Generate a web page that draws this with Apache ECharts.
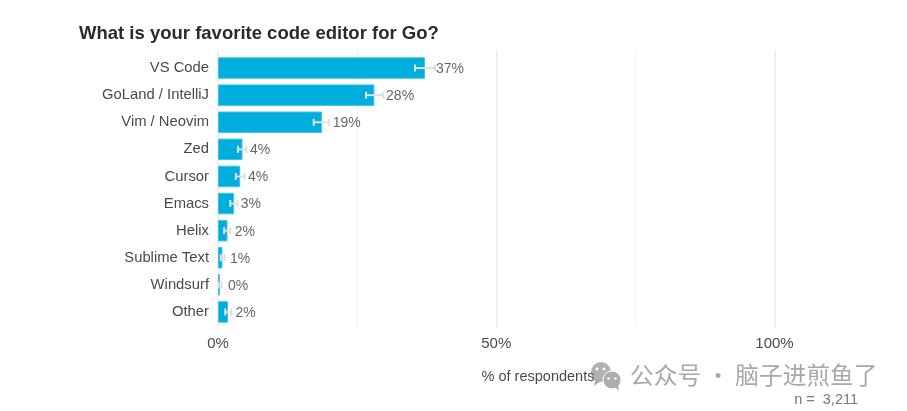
<!DOCTYPE html>
<html><head><meta charset="utf-8">
<style>html,body{margin:0;padding:0;background:#fff}#c{width:907px;height:411px}</style>
<script src="https://cdn.jsdelivr.net/npm/echarts@6/dist/echarts.min.js"></script>
</head><body><div id="c"></div>
<script>
const categories = ["VS Code","GoLand / IntelliJ","Vim / Neovim","Zed","Cursor","Emacs","Helix","Sublime Text","Windsurf","Other"];
const values = [37.2,28.1,18.7,4.4,4.0,2.9,1.7,0.8,0.35,1.8];
const errLow = [35.4,26.6,17.2,3.6,3.2,2.2,1.1,0.5,0.1,1.3];
const errHigh = [39.0,29.7,19.9,5.1,4.8,3.5,2.2,1.2,0.6,2.4];
const valueLabels = ["37%","28%","19%","4%","4%","3%","2%","1%","0%","2%"];
const labelAnchor = [39.15,30.2,20.6,5.75,5.4,4.1,3.0,2.15,1.8,3.15];
const xTickLabels = {0:"0%",50:"50%",100:"100%"};
const FONT = '"Liberation Sans", Arial, sans-serif';
const TEXT = '#4a4a4a';
const chart = echarts.init(document.getElementById('c'), null, {renderer:'canvas'});
chart.setOption({
  animation:false,
  backgroundColor:'#fff',
  title:[
    {text:'What is your favorite code editor for Go?',left:74,top:19,textStyle:{fontFamily:FONT,fontSize:18.5,fontWeight:'bold',color:'#2b2b2b'}},
    {text:'n =  3,211',right:44,top:387,textStyle:{fontFamily:FONT,fontSize:14.5,fontWeight:'normal',color:'#777'}}
  ],
  grid:[
    {left:218,right:49,top:54.5,bottom:85.5},
    {left:218,right:49,top:50,bottom:84}
  ],
  xAxis:[
    {gridIndex:0,type:'value',min:0,max:115,
     name:'% of respondents',nameLocation:'middle',nameGap:44,
     nameTextStyle:{fontFamily:FONT,fontSize:14.5,color:TEXT},
     axisLine:{show:false},axisTick:{show:false},
     axisLabel:{customValues:[0,50,100],formatter:v=>xTickLabels[v]||'',fontFamily:FONT,fontSize:15,color:TEXT,margin:11},
     splitLine:{show:false}},
    {gridIndex:1,type:'value',min:0,max:115,interval:50,z:0,
     axisLine:{show:false},axisTick:{show:false},axisLabel:{show:false},
     splitLine:{show:true,showMaxLine:false,lineStyle:{color:'#efefef',width:2}},
     minorTick:{show:false,splitNumber:2},
     minorSplitLine:{show:true,lineStyle:{color:'#f0f0f0',width:1}}}
  ],
  yAxis:[
    {gridIndex:0,type:'category',inverse:true,data:categories,
     axisLine:{show:false},axisTick:{show:false},
     axisLabel:{fontFamily:FONT,fontSize:14.8,color:TEXT,margin:9,padding:[0,0,-4,0]},
     splitLine:{show:false}},
    {gridIndex:1,type:'value',min:0,max:1,show:false,splitLine:{show:false}}
  ],
  series:[
    {type:'bar',xAxisIndex:0,yAxisIndex:0,data:values,barWidth:21.5,itemStyle:{color:'#00AEDB',borderColor:'#45c0e4',borderWidth:1},z:2},
    {type:'custom',xAxisIndex:0,yAxisIndex:0,z:3,data:categories.map((c,i)=>[errLow[i],errHigh[i],i]),
      encode:{x:[0,1],y:2},
      renderItem:(p,api)=>{
        const a=api.coord([api.value(0),api.value(2)]),b=api.coord([api.value(1),api.value(2)]);
        const st={stroke:'#e0e0e0',lineWidth:2,fill:null};
        return {type:'group',children:[
          {type:'line',shape:{x1:a[0],y1:a[1],x2:b[0],y2:b[1]},style:st},
          {type:'line',shape:{x1:a[0],y1:a[1]-3.5,x2:a[0],y2:a[1]+3.5},style:st},
          {type:'line',shape:{x1:b[0],y1:b[1]-3.5,x2:b[0],y2:b[1]+3.5},style:st}
        ]};
      }},
    {type:'scatter',xAxisIndex:0,yAxisIndex:0,z:4,symbolSize:0,silent:true,
      data:categories.map((c,i)=>({value:[labelAnchor[i],i],label:{formatter:valueLabels[i]}})),
      label:{show:true,position:'right',distance:0,offset:[0,1],fontFamily:FONT,fontSize:14,color:'#404040'}}
  ],
  graphic:[
    {type:'group',z:10,children:[
      {type:'circle',shape:{cx:601,cy:372,r:10},style:{fill:'rgba(165,165,165,0.85)'}},
      {type:'polygon',shape:{points:[[595,379],[594,386],[601,381]]},style:{fill:'rgba(165,165,165,0.85)'}},
      {type:'circle',shape:{cx:612,cy:380,r:9},style:{fill:'#adadad',stroke:'#fff',lineWidth:1}},
      {type:'polygon',shape:{points:[[615,387],[619,391],[618,384]]},style:{fill:'#adadad'}},
      {type:'circle',shape:{cx:597,cy:369,r:1.4},style:{fill:'#fff'}},
      {type:'circle',shape:{cx:604,cy:369,r:1.4},style:{fill:'#fff'}},
      {type:'circle',shape:{cx:608.5,cy:378.5,r:1.2},style:{fill:'#fff'}},
      {type:'circle',shape:{cx:615.5,cy:378.5,r:1.2},style:{fill:'#fff'}}
    ]},
    {type:'text',z:10,x:630,y:363,style:{text:'公众号 · 脑子进煎鱼了',fontFamily:'"Noto Sans CJK SC"',fontSize:23.7,fill:'#a8a8a8'}}
  ]
});
</script></body></html>
